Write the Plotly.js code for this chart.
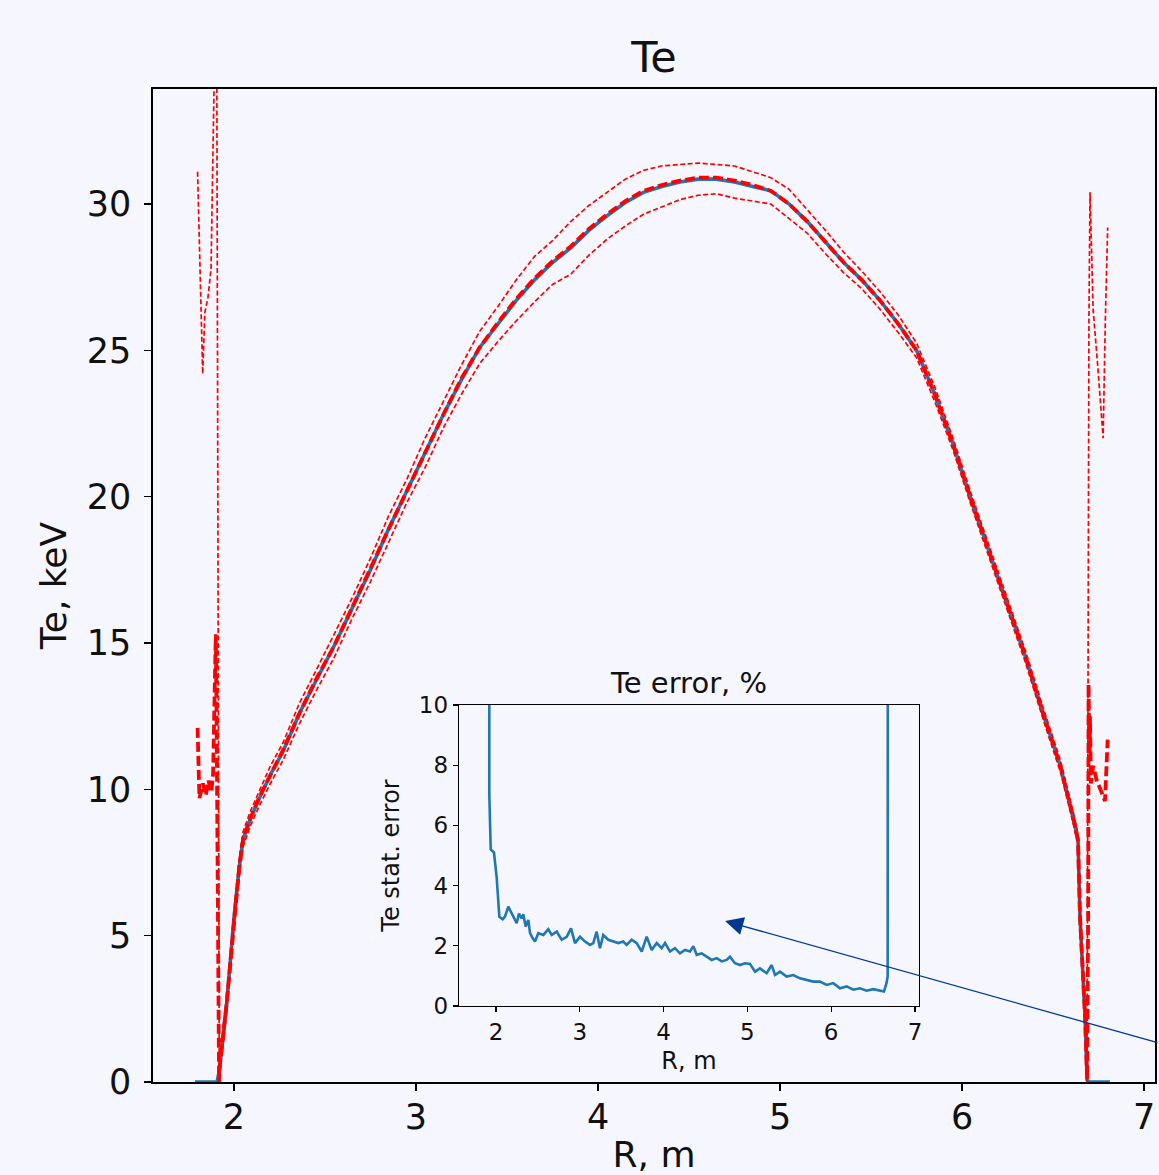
<!DOCTYPE html>
<html>
<head>
<meta charset="utf-8">
<script src="https://cdn.plot.ly/plotly-3.0.1.min.js"></script>
<style>
  html, body { margin: 0; padding: 0; background: #f6f7fe; }
  #chart { width: 1159px; height: 1175px; }
</style>
</head>
<body>
<div id="chart"></div>
<script>
// ---------- Main panel: Te profile (keV) vs R (m) ----------
// Core radial grid shared by fit, mean and +/- bounds
const R_core = [1.92, 1.96, 2.00, 2.03, 2.05, 2.09, 2.14, 2.20, 2.27, 2.36,
  2.45, 2.55, 2.65, 2.75, 2.85, 2.95, 3.05, 3.15, 3.25, 3.35,
  3.45, 3.55, 3.65, 3.75, 3.85, 3.95, 4.05, 4.15, 4.25, 4.35,
  4.45, 4.55, 4.65, 4.75, 4.85, 4.95, 5.05, 5.15, 5.25, 5.35,
  5.45, 5.55, 5.65, 5.75, 5.85, 5.95, 6.05, 6.15, 6.25, 6.35,
  6.45, 6.54, 6.61, 6.637, 6.648, 6.662, 6.676, 6.687];

// Fitted profile (solid blue)
const Te_fit_core = [0.4, 2.7, 5.6, 7.4, 8.3, 9.0, 9.7, 10.5, 11.3, 12.6,
  13.7, 14.9, 16.2, 17.5, 18.9, 20.2, 21.5, 22.8, 24.0, 25.1,
  25.9, 26.7, 27.4, 28.0, 28.5, 29.1, 29.6, 30.05, 30.4, 30.6,
  30.75, 30.85, 30.85, 30.75, 30.6, 30.45, 30.0, 29.4, 28.7, 28.0,
  27.4, 26.7, 25.9, 25.0, 23.5, 21.8, 19.9, 18.1, 16.3, 14.5,
  12.5, 10.8, 9.05, 8.27, 5.64, 3.9, 2.2, 0.07];

// Mean of samples (thick red dashed)
const Te_mean_core = [0.45, 2.7, 5.6, 7.4, 8.3, 9.0, 9.75, 10.5, 11.35, 12.6,
  13.75, 14.9, 16.2, 17.55, 18.9, 20.2, 21.55, 22.8, 24.05, 25.1,
  25.95, 26.75, 27.45, 28.05, 28.55, 29.15, 29.65, 30.1, 30.45, 30.65,
  30.8, 30.9, 30.9, 30.8, 30.65, 30.45, 30.0, 29.4, 28.7, 28.0,
  27.4, 26.7, 25.9, 25.0, 23.5, 21.8, 19.9, 18.1, 16.3, 14.5,
  12.5, 10.8, 9.05, 8.27, 5.64, 3.9, 2.2, 0.1];

// Mean + std (thin red dashed)
const Te_upper_core = [0.6, 3.0, 5.9, 7.7, 8.55, 9.25, 9.95, 10.8, 11.6, 12.95,
  14.05, 15.3, 16.55, 17.9, 19.35, 20.6, 22.0, 23.25, 24.5, 25.65,
  26.5, 27.4, 28.2, 28.75, 29.4, 29.95, 30.4, 30.85, 31.15, 31.3,
  31.35, 31.4, 31.35, 31.3, 31.1, 30.9, 30.5, 29.8, 29.1, 28.35,
  27.7, 27.0, 26.2, 25.25, 23.75, 22.0, 20.1, 18.3, 16.5, 14.7,
  12.7, 11.0, 9.25, 8.47, 5.84, 4.1, 2.4, 0.27];

// Mean - std (thin red dashed)
const Te_lower_core = [0.2, 2.4, 5.3, 7.1, 8.05, 8.75, 9.45, 10.2, 11.0, 12.25,
  13.35, 14.5, 15.85, 17.1, 18.45, 19.8, 21.0, 22.35, 23.5, 24.55,
  25.3, 26.0, 26.65, 27.25, 27.6, 28.25, 28.8, 29.25, 29.65, 29.9,
  30.15, 30.3, 30.35, 30.2, 30.1, 30.0, 29.5, 29.0, 28.3, 27.65,
  27.1, 26.4, 25.6, 24.75, 23.25, 21.6, 19.7, 17.9, 16.1, 14.3,
  12.3, 10.6, 8.85, 8.07, 5.44, 3.7, 2.0, -0.13];

// Edge regions (outside the plasma), noisy statistics
const R_fit_left = [1.786, 1.85, 1.907];
const Te_fit_left = [0, 0, 0];
const R_fit_right = [6.70, 6.76, 6.813];
const Te_fit_right = [0, 0, 0];

const R_mean_left = [1.80, 1.81, 1.83, 1.845, 1.86, 1.875, 1.885, 1.895, 1.90, 1.905, 1.91, 1.915, 1.918];
const Te_mean_left = [12.1, 9.7, 10.2, 9.8, 10.3, 9.9, 10.5, 13.5, 15.3, 12.0, 7.0, 2.0, 0.0];
const R_mean_right = [6.693, 6.695, 6.700, 6.703, 6.708, 6.72, 6.74, 6.76, 6.785, 6.80];
const Te_mean_right = [6.0, 13.6, 11.0, 12.5, 10.2, 10.8, 10.3, 10.0, 9.6, 11.7];

const R_upper_left = [1.80, 1.828, 1.84, 1.857, 1.874, 1.88, 1.893, 1.905, 1.912, 1.916, 1.919];
const Te_upper_left = [31.1, 24.2, 26.3, 26.8, 27.8, 30.8, 35.0, 36.0, 19.0, 8.0, 0.5];
const R_upper_right = [6.692, 6.697, 6.703, 6.72, 6.745, 6.775, 6.787, 6.80];
const Te_upper_right = [15.0, 26.0, 30.4, 26.4, 24.5, 22.0, 26.0, 29.2];

const R_lower_left = [1.80, 1.85, 1.90, 1.918];
const Te_lower_left = [-6.9, -6.5, -5.4, -0.5];
const R_lower_right = [6.70, 6.75, 6.80];
const Te_lower_right = [-5.0, -4.5, -5.8];

// ---------- Inset: statistical error of Te (%) vs R ----------
const R_err = [1.920, 1.920, 1.937, 1.976, 2.008, 2.04, 2.08, 2.107, 2.147, 2.187,
  2.227, 2.247, 2.274, 2.306, 2.326, 2.354, 2.386, 2.406, 2.438, 2.465,
  2.505, 2.565, 2.624, 2.665, 2.724, 2.784, 2.844, 2.895, 2.943, 3.002,
  3.062, 3.122, 3.161, 3.201, 3.241, 3.28, 3.34, 3.40, 3.46, 3.519,
  3.559, 3.619, 3.679, 3.739, 3.798, 3.858, 3.918, 3.977, 4.017, 4.076,
  4.136, 4.196, 4.255, 4.315, 4.355, 4.395, 4.455, 4.514, 4.574, 4.634,
  4.693, 4.753, 4.792, 4.852, 4.912, 4.971, 5.031, 5.091, 5.15, 5.23,
  5.29, 5.33, 5.389, 5.469, 5.548, 5.628, 5.707, 5.787, 5.866, 5.946,
  6.025, 6.105, 6.185, 6.264, 6.344, 6.423, 6.503, 6.582, 6.63, 6.66,
  6.674, 6.676];
const Err_pct = [14.0, 7.07, 5.2, 5.1, 4.27, 2.96, 2.88, 2.97, 3.3, 3.08,
  2.91, 2.75, 3.07, 2.91, 3.05, 2.64, 2.86, 2.42, 2.25, 2.14,
  2.42, 2.36, 2.55, 2.36, 2.47, 2.2, 2.3, 2.58, 2.09, 2.3,
  2.14, 2.03, 2.09, 2.47, 1.92, 2.36, 2.2, 2.14, 2.09, 2.14,
  2.03, 2.2, 2.09, 1.81, 2.3, 1.86, 2.09, 1.92, 2.09, 1.81,
  1.92, 1.75, 1.86, 1.81, 1.99, 1.70, 1.75, 1.64, 1.53, 1.59,
  1.48, 1.53, 1.64, 1.42, 1.36, 1.42, 1.40, 1.14, 1.25, 1.09,
  1.36, 1.03, 1.14, 0.98, 1.03, 0.92, 0.87, 0.81, 0.81, 0.70,
  0.76, 0.59, 0.65, 0.54, 0.59, 0.51, 0.56, 0.52, 0.48, 0.76,
  0.98, 14.0];

// ---------- Assemble traces ----------
const BG = '#f6f7fe';
const FONT = 'DejaVu Sans, Liberation Sans, sans-serif';
const TXT = '#111111';

const traces = [
  { x: R_fit_left.concat(R_core, R_fit_right),
    y: Te_fit_left.concat(Te_fit_core, Te_fit_right),
    type: 'scatter', mode: 'lines', xaxis: 'x', yaxis: 'y',
    line: { color: '#1f77b4', width: 3.6 }, name: 'fit' },
  { x: R_mean_left.concat(R_core, R_mean_right),
    y: Te_mean_left.concat(Te_mean_core, Te_mean_right),
    type: 'scatter', mode: 'lines', xaxis: 'x', yaxis: 'y',
    line: { color: '#ff0000', width: 3.8, dash: '10px,4px' }, name: 'mean' },
  { x: R_upper_left.concat(R_core, R_upper_right),
    y: Te_upper_left.concat(Te_upper_core, Te_upper_right),
    type: 'scatter', mode: 'lines', xaxis: 'x', yaxis: 'y',
    line: { color: '#ff0000', width: 1.7, dash: '5px,2.5px' }, name: 'mean+std' },
  { x: R_lower_left.concat(R_core, R_lower_right),
    y: Te_lower_left.concat(Te_lower_core, Te_lower_right),
    type: 'scatter', mode: 'lines', xaxis: 'x', yaxis: 'y',
    line: { color: '#ff0000', width: 1.7, dash: '5px,2.5px' }, name: 'mean-std' },
  { x: R_err, y: Err_pct,
    type: 'scatter', mode: 'lines', xaxis: 'x2', yaxis: 'y2',
    line: { color: '#1f77b4', width: 2.6 }, name: 'error' }
];

const axisCommon = {
  showline: true, mirror: true, linecolor: '#000000',
  ticks: 'outside', tickcolor: '#000000',
  showgrid: false, zeroline: false
};

const layout = {
  width: 1159, height: 1175,
  paper_bgcolor: BG, plot_bgcolor: BG,
  showlegend: false,
  margin: { l: 153, r: 4, t: 89, b: 93, pad: 0 },
  font: { family: FONT, color: TXT },
  title: { text: 'Te', font: { size: 43, family: FONT, color: TXT },
           x: 0.5, xref: 'paper', xanchor: 'center',
           y: 1 - 57 / 1175, yref: 'container', yanchor: 'middle' },
  xaxis: Object.assign({}, axisCommon, {
    domain: [0, 1], range: [1.555, 7.060], anchor: 'y',
    tickvals: [2, 3, 4, 5, 6, 7], ticklen: 7, tickwidth: 1.5, linewidth: 1.6,
    ticklabelstandoff: -4,
    tickfont: { size: 35, family: FONT, color: TXT },
    title: { text: 'R, m', font: { size: 36, family: FONT, color: TXT }, standoff: 18 }
  }),
  yaxis: Object.assign({}, axisCommon, {
    domain: [0, 1], range: [0, 33.93], anchor: 'x',
    tickvals: [0, 5, 10, 15, 20, 25, 30], ticklen: 7, tickwidth: 1.5, linewidth: 1.6,
    ticklabelstandoff: 6,
    tickfont: { size: 35, family: FONT, color: TXT },
    title: { text: 'Te, keV', font: { size: 36, family: FONT, color: TXT }, standoff: 9 }
  }),
  xaxis2: Object.assign({}, axisCommon, {
    domain: [0.30539, 0.76447], range: [1.5585, 7.048], anchor: 'y2',
    tickvals: [2, 3, 4, 5, 6, 7], ticklen: 5, tickwidth: 1.2, linewidth: 1.3,
    tickfont: { size: 23, family: FONT, color: TXT },
    title: { text: 'R, m', font: { size: 24, family: FONT, color: TXT }, standoff: 8 }
  }),
  yaxis2: Object.assign({}, axisCommon, {
    domain: [0.07654, 0.37966], range: [0, 10], anchor: 'x2',
    tickvals: [0, 2, 4, 6, 8, 10], ticklen: 5, tickwidth: 1.2, linewidth: 1.3,
    tickfont: { size: 23, family: FONT, color: TXT },
    title: { text: 'Te stat. error', font: { size: 24, family: FONT, color: TXT }, standoff: 12 }
  }),
  annotations: [
    { text: 'Te error, %', xref: 'x2 domain', x: 0.5, xanchor: 'center',
      yref: 'paper', y: (1082 - 683) / 993, yanchor: 'middle',
      showarrow: false, font: { size: 29, family: FONT, color: TXT } },
    { text: '', xref: 'x', yref: 'y', x: 4.698, y: 5.50,
      ax: 475, ay: 122, showarrow: true, arrowhead: 2, arrowsize: 2.8,
      arrowwidth: 1.3, arrowcolor: '#003893', standoff: 0, startstandoff: 0 }
  ]
};

Plotly.newPlot('chart', traces, layout, { displayModeBar: false, staticPlot: true });
</script>
</body>
</html>
